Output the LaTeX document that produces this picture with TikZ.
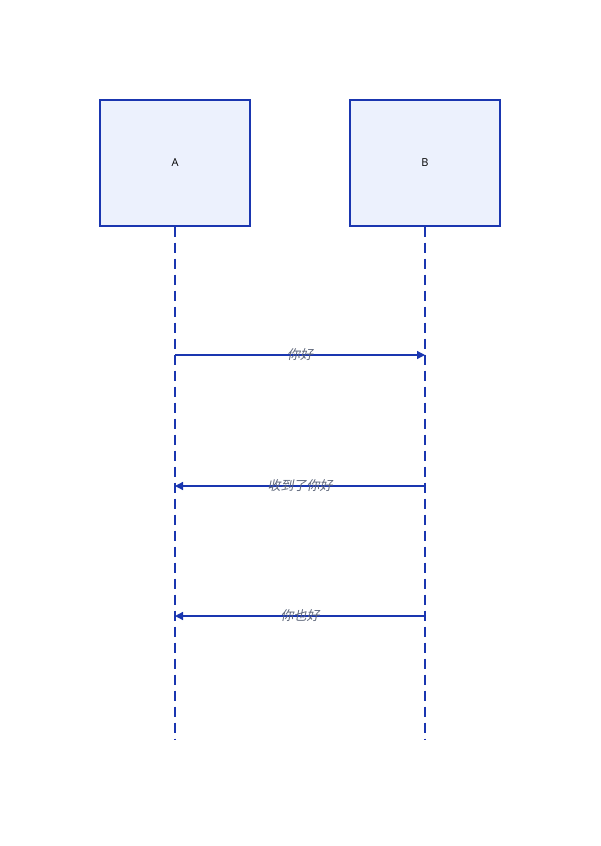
\documentclass[tikz,border=0pt]{standalone}
\usepackage{fontspec}
\setmainfont{Open Sans}
\newfontfamily\cjk[FakeSlant=0.2]{Noto Sans CJK SC}
\usetikzlibrary{arrows.meta}
\definecolor{ln}{HTML}{1A36B0}
\definecolor{bx}{HTML}{ECF1FD}
\definecolor{tx}{HTML}{5B6478}
\begin{document}
\begin{tikzpicture}[x=1pt,y=-1pt,
  actor/.style={draw=ln,fill=bx,line width=1.3pt,minimum width=150pt,minimum height=126pt,inner sep=0,font=\fontsize{11}{13}\selectfont},
  life/.style={ln,line width=1.5pt,dash pattern=on 10pt off 6pt},
  msg/.style={ln,line width=1.3pt,-{Triangle[length=8pt,width=8pt]}},
  lbl/.style={text=tx,font=\cjk\fontsize{13}{15}\selectfont,inner sep=0}]
\useasboundingbox (0,0) rectangle (600,846);
\node[actor] (A) at (175,163) {A};
\node[actor] (B) at (425,163) {B};
\coordinate (Ae) at (175,740);
\coordinate (Be) at (425,740);
\draw[life] (A.south) -- (Ae);
\draw[life] (B.south) -- (Be);
\coordinate (a1) at (175,355); \coordinate (b1) at (425,355);
\coordinate (a2) at (175,486); \coordinate (b2) at (425,486);
\coordinate (a3) at (175,616); \coordinate (b3) at (425,616);
\draw[msg] (a1) -- (b1) node[lbl,midway] {你好};
\draw[msg] (b2) -- (a2) node[lbl,midway] {收到了你好};
\draw[msg] (b3) -- (a3) node[lbl,midway] {你也好};
\end{tikzpicture}
\end{document}
